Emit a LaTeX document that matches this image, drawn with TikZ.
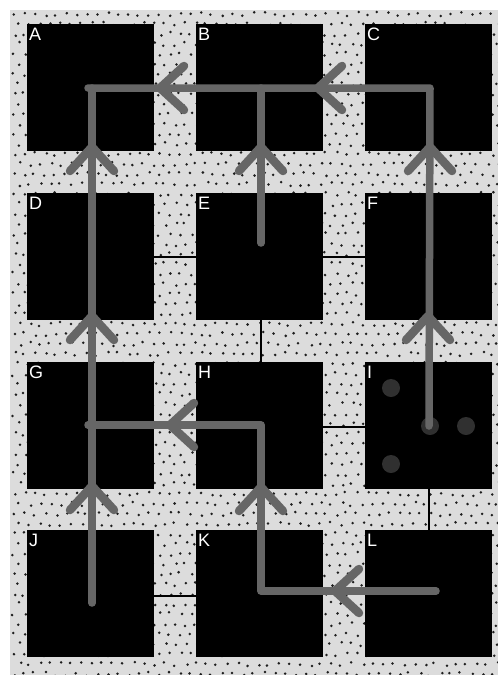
\documentclass[tikz,border=0pt]{standalone}
\usepackage{fontspec}
\setmainfont{Liberation Sans}
\definecolor{bgray}{HTML}{DCDCDC}
\definecolor{dotc}{HTML}{1E1E1E}
\definecolor{pathgray}{HTML}{666666}
\definecolor{holec}{HTML}{303030}
\begin{document}
\begin{tikzpicture}[x=1pt,y=-1pt,
  sq/.style={fill=black,minimum width=127pt,minimum height=127pt,inner sep=0pt,outer sep=0pt},
  lbl/.style={text=white,font=\fontsize{18}{18}\selectfont,inner sep=0pt,anchor=north west},
  wall/.style={black,line width=1.6pt},
  route/.style={draw=pathgray,line width=7.5pt,line cap=round,line join=round},
  chev/.pic={\draw[route,line width=8.5pt] (-24,-22) -- (0,0) -- (-24,22);},
  hole/.style={fill=holec}
]
\useasboundingbox (0,0) rectangle (498,675);
% stippled background
\fill[bgray] (10,10) rectangle (498,675);
\begin{scope}
\clip (10,10) rectangle (498,675);
\pgfmathsetseed{7}
\foreach \r in {0,...,66}{
  \foreach \c in {0,...,47}{
    \pgfmathsetmacro\px{14+\c*10.4+mod(\r,2)*5.2+rand*2}
    \pgfmathsetmacro\py{14+\r*10+rand*2}
    \fill[dotc] (\px,\py) circle[radius=1.4];
  }
}
\end{scope}
% squares
\node[sq] (A) at (90.5,87.5) {};
\node[sq] (B) at (259.5,87.5) {};
\node[sq] (C) at (428.5,87.5) {};
\node[sq] (D) at (90.5,256.5) {};
\node[sq] (E) at (259.5,256.5) {};
\node[sq] (F) at (428.5,256.5) {};
\node[sq] (G) at (90.5,425.5) {};
\node[sq] (H) at (259.5,425.5) {};
\node[sq] (I) at (428.5,425.5) {};
\node[sq] (J) at (90.5,593.5) {};
\node[sq] (K) at (259.5,593.5) {};
\node[sq] (L) at (428.5,593.5) {};
% labels
\foreach \n in {A,B,C,D,E,F,G,H,I,J,K,L}{
  \node[lbl] (lbl\n) at ([xshift=2pt,yshift=-4pt]\n.north west) {\n};
}
% walls between squares
\draw[wall] (D.east |- 0,257) -- (E.west |- 0,257);
\draw[wall] (E.east |- 0,257) -- (F.west |- 0,257);
\draw[wall] (261,0 |- E.south) -- (261,0 |- H.north);
\draw[wall] (H.east |- 0,427) -- (I.west |- 0,427);
\draw[wall] (429,0 |- I.south) -- (429,0 |- L.north);
\draw[wall] (J.east |- 0,596) -- (K.west |- 0,596);
% holes in I
\fill[hole] (391,388) circle[radius=9];
\fill[hole] (466,426) circle[radius=9];
\fill[hole] (391,464) circle[radius=9];
\fill[hole] (430,426) circle[radius=9];
% route coordinates
\coordinate (pI) at (429,426);
\coordinate (pC) at (430,88);
\coordinate (pA) at (88,88);
\coordinate (pAv) at (92,88);
\coordinate (pJ) at (92,603);
\coordinate (pB) at (261,88);
\coordinate (pE) at (261,243);
\coordinate (pG) at (88,425);
\coordinate (pH) at (261,425);
\coordinate (pK) at (261,591);
\coordinate (pL) at (436,591);
% routes
\draw[route] (pI) -- (pC) -- (pA);
\draw[route] (pAv) -- (pJ);
\draw[route] (pB) -- (pE);
\draw[route] (pG) -- (pH) -- (pK) -- (pL);
% arrow chevrons
\pic[rotate=180] at (160,88) {chev};
\pic[rotate=180] at (318,88) {chev};
\pic[rotate=90] at (92,147) {chev};
\pic[rotate=90] at (261,147) {chev};
\pic[rotate=90] at (430,147) {chev};
\pic[rotate=90] at (92,316) {chev};
\pic[rotate=90] at (428,316) {chev};
\pic[rotate=90] at (92,486) {chev};
\pic[rotate=180] at (170,425) {chev};
\pic[rotate=90] at (261,487) {chev};
\pic[rotate=180] at (335,591) {chev};
\end{tikzpicture}
\end{document}
